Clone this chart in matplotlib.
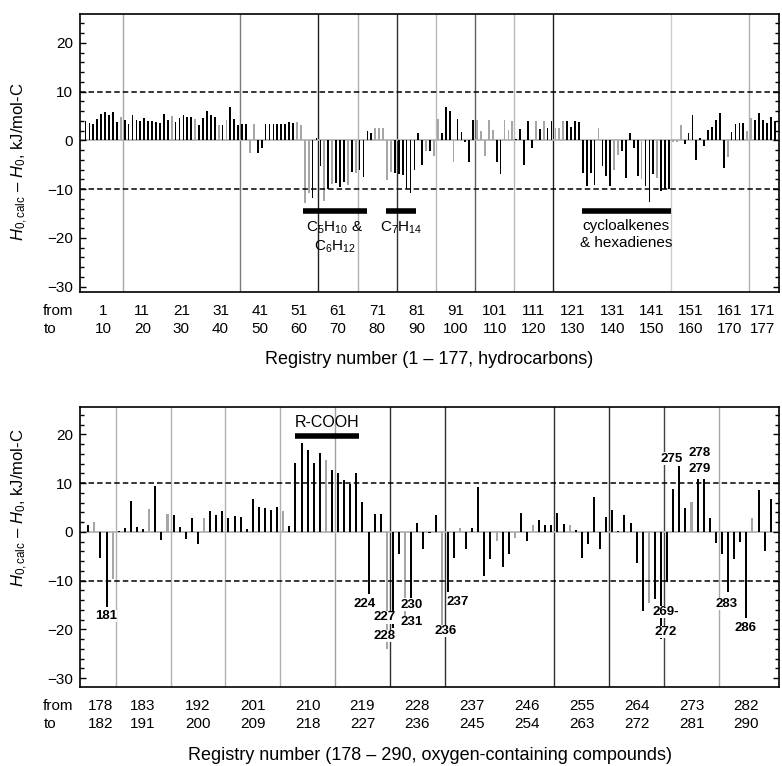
import matplotlib
matplotlib.use('Agg')
import matplotlib.pyplot as plt
from matplotlib.ticker import MultipleLocator

plt.rcParams['font.family'] = ['Liberation Sans', 'DejaVu Sans']
plt.rcParams['mathtext.fontset'] = 'custom'
plt.rcParams['mathtext.rm'] = 'Liberation Sans'
plt.rcParams['mathtext.it'] = 'Liberation Sans:italic'
plt.rcParams['mathtext.bf'] = 'Liberation Sans:bold'

# ---------------- data: hydrocarbons (1-177) ----------------
top_ids = list(range(1, 178))
top_values = [
    3.9, 3.5, 3.3, 4.4, 5.4, 5.9, 5.2, 5.8, 3.7, 4.8,
    4.1, 3.3, 5.2, 4.1, 3.9, 4.5, 3.9, 3.9, 3.7, 3.5,
    5.4, 4.1, 5.0, 3.7, 4.6, 5.2, 4.8, 4.8, 4.3, 3.1,
    4.6, 6.0, 5.1, 4.8, 3.1, 3.1, 4.1, 6.8, 4.3, 3.1,
    3.3, 3.3, -2.7, 3.3, -2.7, -1.5, 3.3, 3.3, 3.3, 3.3,
    3.3, 3.3, 3.8, 3.6, 3.8, 3.1, -12.8, -10.7, -11.8, 0.5,
    -5.2, -12.5, -9.9, -9.0, -8.8, -9.5, -8.5, -9.2, -6.5, -6.6,
    -6.1, -7.6, 1.9, 1.4, 2.6, 2.5, 2.5, -8.1, -6.5, -6.6,
    -6.9, -7.1, -9.9, -10.7, -6.0, 1.4, -5.1, -2.2, -2.2, -3.2,
    4.4, 1.6, 6.9, 6.0, -4.5, 4.4, 1.8, -0.3, -4.4, 4.1,
    4.2, 2.0, -3.3, 4.1, 2.2, -4.4, -6.9, 4.2, 2.2, 4.0,
    0.2, 2.4, -5.1, 4.0, -1.5, 3.9, 2.4, 3.9, 2.6, 3.9,
    2.6, 2.6, 3.9, 3.9, 2.8, 3.9, 3.8, -6.6, -9.3, -6.6,
    -9.1, 2.6, -5.3, -7.4, -9.3, -6.1, -3.0, -2.2, -7.7, 1.6,
    -1.5, -7.3, -8.0, -9.3, -12.6, -6.9, -7.7, -10.3, -9.9, -9.9,
    -0.3, -0.3, 3.1, -0.8, 1.4, 5.2, -4.0, 0.5, -1.2, 2.2,
    2.8, 4.1, 5.7, -5.7, -3.5, 1.7, 3.3, 3.5, 3.5, 1.9,
    4.6, 4.2, 5.5, 4.2, 3.6, 4.8, 3.9,
]
top_gray = [10, 23, 29, 35, 37, 43, 44, 55, 56, 57, 58, 62, 64, 68, 70, 75, 76,
            77, 78, 79, 88, 90, 91, 95, 101, 102, 103, 104, 105, 108, 109, 110,
            116, 118, 121, 122, 123, 132, 136, 137, 143, 147, 151, 152, 153,
            165, 170, 171]
top_from = [1, 11, 21, 31, 41, 51, 61, 71, 81, 91, 101, 111, 121, 131, 141, 151, 161, 171]
top_to = [10, 20, 30, 40, 50, 60, 70, 80, 90, 100, 110, 120, 130, 140, 150, 160, 170, 177]
top_separators = [10.5, 40.5, 60.5, 70.5, 80.5, 90.5, 100.5, 110.5, 120.5, 150.5, 170.5]
top_sep_colors = ['#a8a8a8', '#7a7a7a', '#202020', '#b0b0b0', '#303030', '#b8b8b8',
                  '#606060', '#b8b8b8', '#202020', '#cccccc', '#b0b0b0']
top_groups = [r'C$_5$H$_{10}$ &' + '\n' + r'C$_6$H$_{12}$', r'C$_7$H$_{14}$',
              'cycloalkenes\n& hexadienes']
top_group_start = [56.5, 77.7, 127.7]
top_group_end = [72.9, 85.5, 150.5]

# ---------------- data: oxygen-containing (178-290) ----------------
bot_ids = list(range(178, 291))
bot_values = [
    1.4, 2.0, -5.3, -15.4, -9.7, 0.2, 0.8, 6.4, 1.0, 0.5,
    4.7, 9.5, -1.6, 3.6, 3.4, 1.0, -1.4, 2.8, -2.5, 2.9,
    4.2, 3.4, 4.3, 2.8, 3.2, 3.0, 0.6, 6.8, 5.1, 4.9,
    4.4, 5.0, 4.3, 1.2, 14.1, 18.2, 16.8, 14.1, 16.2, 14.8,
    12.6, 12.1, 10.7, 9.9, 12.1, 6.1, -12.7, 3.6, 3.6, -24.0,
    -19.8, -4.6, -17.4, -16.2, 1.8, -3.5, -0.3, 3.4, -20.0, -12.4,
    -5.4, 0.8, -3.5, 0.8, 9.3, -9.0, -5.6, -1.8, -7.2, -4.5,
    -1.2, 3.8, -1.8, 1.4, 2.4, 1.4, 1.4, 3.8, 1.6, 1.4,
    0.4, -5.3, -2.5, 7.2, -3.5, 3.0, 4.5, 0.2, 3.4, 1.8,
    -6.4, -16.2, -14.5, -13.8, -22.0, -10.2, 8.8, 13.6, 4.9, 6.2,
    10.9, 10.9, 2.8, -2.2, -4.5, -12.3, -5.6, -2.0, -17.6, 2.8,
    8.6, -4.0, 6.8,
]
bot_gray = [179, 182, 188, 191, 197, 210, 217, 227, 230, 236, 239, 245, 248,
            251, 257, 270, 277, 287]
bot_from = [178, 183, 192, 201, 210, 219, 228, 237, 246, 255, 264, 273, 282]
bot_to = [182, 191, 200, 209, 218, 227, 236, 245, 254, 263, 272, 281, 290]
bot_separators = [182.5, 191.5, 200.5, 209.5, 218.5, 227.5, 236.5, 254.5, 263.5, 272.5, 281.5]
bot_sep_colors = ['#b0b0b0', '#b0b0b0', '#b0b0b0', '#b0b0b0', '#a0a0a0', '#303030',
                  '#303030', '#303030', '#303030', '#404040', '#a8a8a8']
bot_labels = ['181', '224', '227', '228', '230', '231', '236', '237', '269-', '272',
              '275', '278', '279', '283', '286']
bot_label_x = [180.9, 223.4, 226.6, 226.6, 231.0, 231.0, 236.7, 238.7, 272.8, 272.8,
               273.8, 278.4, 278.4, 282.8, 285.9]
bot_label_y = [-17.2, -14.8, -17.5, -21.3, -14.9, -18.5, -20.3, -14.4, -16.4, -20.5,
               15.0, 16.2, 12.9, -14.8, -19.7]
acid_start, acid_end = 212.0, 222.4

W, H = 782, 766
fig = plt.figure(figsize=(W / 100, H / 100), dpi=100)
ax1 = fig.add_axes([80 / W, 1 - 292 / H, 699 / W, 278 / H])
ax2 = fig.add_axes([80 / W, 1 - 687 / H, 699 / W, 280 / H])

PX = 0.72  # points per pixel


def style(ax, seps, sepc, ylim, xlim):
    ax.set_xlim(*xlim)
    ax.set_ylim(*ylim)
    for s, c in zip(seps, sepc):
        ax.axvline(s, color=c, lw=1.0, zorder=1)
    ax.axhline(0, color='#b4b4b4', lw=1.3, zorder=1)
    for yv in (10, -10):
        ax.axhline(yv, color='black', lw=1.1, ls=(0, (3.6, 2.0)), zorder=4)
    ax.set_xticks([])
    ax.set_yticks([-30, -20, -10, 0, 10, 20])
    ax.yaxis.set_minor_locator(MultipleLocator(2))
    ax.tick_params(axis='y', which='both', direction='in', left=True, right=True,
                   labelsize=11, pad=5, width=1.0)
    ax.tick_params(axis='y', which='major', length=4)
    ax.tick_params(axis='y', which='minor', length=3)
    for sp in ax.spines.values():
        sp.set_linewidth(1.2)
    ax.set_ylabel(r'$H_{0,\mathrm{calc}}$ – $H_0$, kJ/mol-C', fontsize=12)


def from_to(ax, froms, tos, xlabel):
    for f, t in zip(froms, tos):
        c = (f + t) / 2
        ax.annotate(str(f), xy=(c, 0), xycoords=('data', 'axes fraction'),
                    xytext=(0, -19 * PX), textcoords='offset points',
                    ha='center', va='center', fontsize=11)
        ax.annotate(str(t), xy=(c, 0), xycoords=('data', 'axes fraction'),
                    xytext=(0, -37 * PX), textcoords='offset points',
                    ha='center', va='center', fontsize=11)
    ax.annotate('from', xy=(0, 0), xycoords='axes fraction', xytext=(-22 * PX, -19 * PX),
                textcoords='offset points', ha='center', va='center', fontsize=11)
    ax.annotate('to', xy=(0, 0), xycoords='axes fraction', xytext=(-30 * PX, -37 * PX),
                textcoords='offset points', ha='center', va='center', fontsize=11)
    ax.annotate(xlabel, xy=(0.5, 0), xycoords='axes fraction', xytext=(0, -68 * PX),
                textcoords='offset points', ha='center', va='center', fontsize=13)


# ---- top panel ----
top_colors = ['#a6a6a6' if i in top_gray else 'black' for i in top_ids]
ax1.bar(top_ids, top_values, width=0.45, color=top_colors, zorder=3)
style(ax1, top_separators, top_sep_colors, (-31.1, 25.9), (-0.4, 178.1))
ax1.yaxis.set_label_coords(-0.071, 0.47)
for txt, s, e in zip(top_groups, top_group_start, top_group_end):
    ax1.plot([s, e], [-14.4, -14.4], color='black', lw=4.0, solid_capstyle='butt', zorder=5)
    ax1.text((s + e) / 2, -16.2, txt, ha='center', va='top', fontsize=11,
             linespacing=1.25, zorder=5)
from_to(ax1, top_from, top_to, 'Registry number (1 – 177, hydrocarbons)')

# ---- bottom panel ----
bot_colors = ['#a6a6a6' if i in bot_gray else 'black' for i in bot_ids]
ax2.bar(bot_ids, bot_values, width=0.33, color=bot_colors, zorder=3)
style(ax2, bot_separators, bot_sep_colors, (-31.8, 25.6), (176.64, 291.36))
ax2.yaxis.set_label_coords(-0.071, 0.64)
ax2.plot([acid_start, acid_end], [19.6, 19.6], color='black', lw=4.0,
         solid_capstyle='butt', zorder=5)
ax2.text((acid_start + acid_end) / 2, 22.4, 'R-COOH', ha='center', va='center',
         fontsize=11.5, zorder=5)
for t, x, y in zip(bot_labels, bot_label_x, bot_label_y):
    ax2.text(x, y, t, ha='center', va='center', fontsize=9.5, fontweight='bold', zorder=6,
             bbox=dict(facecolor='white', edgecolor='none', pad=0.2))
from_to(ax2, bot_from, bot_to, 'Registry number (178 – 290, oxygen-containing compounds)')

fig.savefig('out.png', dpi=100)
